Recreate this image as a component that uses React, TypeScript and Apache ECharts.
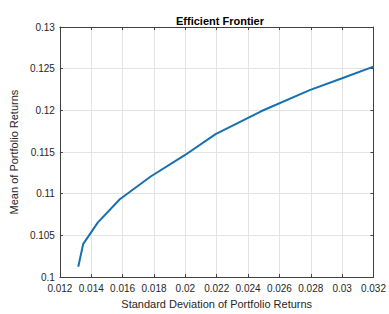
import React, { useEffect, useRef } from "react";
import * as echarts from "echarts";

const stdDev = [0.01317, 0.01348, 0.01441, 0.01582, 0.01779, 0.01996, 0.02193, 0.02483, 0.02793, 0.0300, 0.03200];
const meanRet = [0.10125, 0.10395, 0.10653, 0.10934, 0.11207, 0.11462, 0.11715, 0.11989, 0.12243, 0.12385, 0.12524];

const titleText = "Efficient Frontier";
const xLabel = "Standard Deviation of Portfolio Returns";
const yLabel = "Mean of Portfolio Returns";

const fmt = (v: number) => String(parseFloat(v.toFixed(4)));

export default function App() {
  const ref = useRef<HTMLDivElement>(null);
  useEffect(() => {
    if (!ref.current) return;
    const chart = echarts.init(ref.current, null, { renderer: "svg" });
    const font = "'Liberation Sans', Arial, Helvetica, sans-serif";
    const axisColor = "#404040";
    const textColor = "#262626";
    const common = {
      axisLine: { show: true, lineStyle: { color: axisColor, width: 1 } },
      axisTick: { show: true, inside: true, length: 3, lineStyle: { color: axisColor } },
    };
    chart.setOption({
      animation: false,
      backgroundColor: "#ffffff",
      textStyle: { fontFamily: font },
      title: {
        text: titleText,
        left: 215,
        top: 10,
        textAlign: "center",
        textStyle: { fontSize: 11, fontWeight: "bold", color: "#000", fontFamily: font },
      },
      grid: { left: 54, right: 13, top: 27, bottom: 31 },
      xAxis: [
        {
          type: "value",
          min: 0.012,
          max: 0.032,
          interval: 0.002,
          name: xLabel,
          nameLocation: "middle",
          nameGap: 20,
          nameTextStyle: { fontSize: 11, color: textColor, fontFamily: font },
          ...common,
          axisLabel: { fontSize: 10, color: textColor, margin: 6, formatter: fmt, fontFamily: font },
          splitLine: { show: true, lineStyle: { color: "#e3e3e3", width: 1 } },
        },
        {
          type: "value",
          position: "top",
          min: 0.012,
          max: 0.032,
          interval: 0.002,
          ...common,
          axisLabel: { show: false },
          splitLine: { show: false },
        },
      ],
      yAxis: [
        {
          type: "value",
          min: 0.1,
          max: 0.13,
          interval: 0.005,
          name: yLabel,
          nameLocation: "middle",
          nameGap: 37,
          nameTextStyle: { fontSize: 11, color: textColor, fontFamily: font },
          ...common,
          axisLabel: { fontSize: 10, color: textColor, margin: 5, formatter: fmt, fontFamily: font },
          splitLine: { show: true, lineStyle: { color: "#e3e3e3", width: 1 } },
        },
        {
          type: "value",
          position: "right",
          min: 0.1,
          max: 0.13,
          interval: 0.005,
          ...common,
          axisLabel: { show: false },
          splitLine: { show: false },
        },
      ],
      series: [
        {
          type: "line",
          data: stdDev.map((x, i) => [x, meanRet[i]]),
          showSymbol: false,
          symbol: "none",
          lineStyle: { color: "#1770b0", width: 2 },
          clip: false,
        },
      ],
    });
    return () => chart.dispose();
  }, []);
  return (
    <div
      ref={ref}
      style={{ position: "absolute", left: 0, top: 0, width: 389, height: 314 }}
    />
  );
}
